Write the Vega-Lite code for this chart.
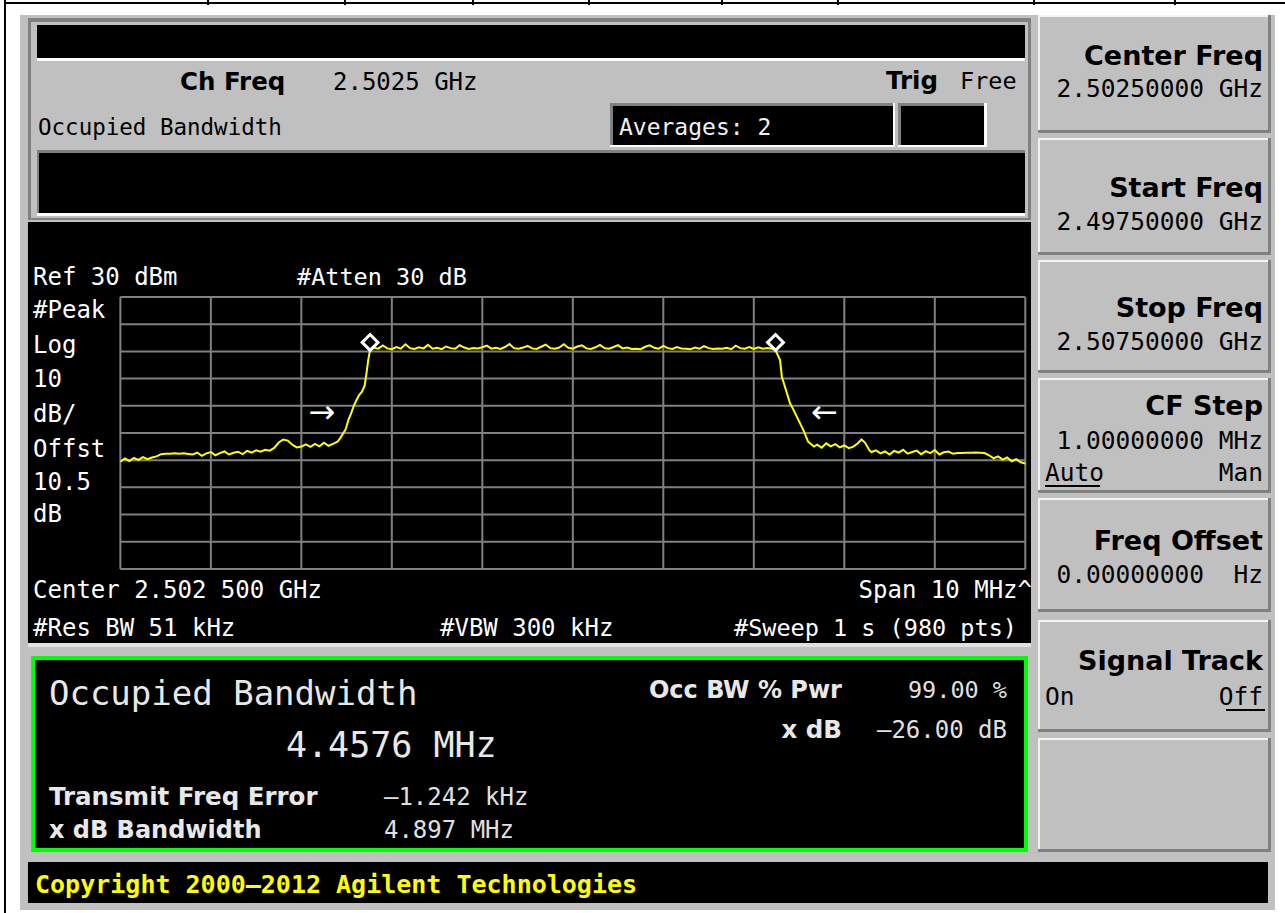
{
"$schema":"https://vega.github.io/schema/vega-lite/v6.json",
"width":1285,"height":913,"padding":0,"autosize":{"type":"none"},
"background":"#ffffff",
"config":{"view":{"stroke":null},"axis":{"disable":true}},
"data":{"values":[{"k":0}]},
"datasets":{
"trace":[
{"f":2497.50,"p":-30.6},{"f":2497.55,"p":-29.4},{"f":2497.60,"p":-30.3},{"f":2497.65,"p":-29.2},{"f":2497.70,"p":-29.9},{"f":2497.75,"p":-28.9},{"f":2497.80,"p":-29.6},{"f":2497.85,"p":-29.0},{"f":2497.90,"p":-28.6},
{"f":2497.95,"p":-27.8},{"f":2498.00,"p":-27.6},{"f":2498.05,"p":-27.6},{"f":2498.10,"p":-27.5},{"f":2498.15,"p":-27.6},{"f":2498.20,"p":-27.5},{"f":2498.25,"p":-27.7},
{"f":2498.30,"p":-27.9},{"f":2498.35,"p":-27.2},{"f":2498.40,"p":-28.4},{"f":2498.45,"p":-27.5},{"f":2498.50,"p":-27.0},{"f":2498.55,"p":-28.2},{"f":2498.60,"p":-27.4},{"f":2498.65,"p":-26.8},{"f":2498.70,"p":-27.9},{"f":2498.75,"p":-27.3},{"f":2498.80,"p":-26.9},{"f":2498.85,"p":-27.8},{"f":2498.90,"p":-26.6},{"f":2498.95,"p":-27.2},{"f":2499.00,"p":-26.4},{"f":2499.05,"p":-26.9},{"f":2499.10,"p":-26.2},
{"f":2499.15,"p":-26.5},{"f":2499.20,"p":-25.5},{"f":2499.25,"p":-23.5},{"f":2499.30,"p":-22.4},{"f":2499.35,"p":-22.8},{"f":2499.40,"p":-24.3},{"f":2499.45,"p":-25.3},{"f":2499.50,"p":-25.0},
{"f":2499.55,"p":-24.2},{"f":2499.60,"p":-25.1},{"f":2499.65,"p":-24.0},{"f":2499.70,"p":-24.9},{"f":2499.75,"p":-23.6},{"f":2499.80,"p":-24.7},{"f":2499.85,"p":-24.0},
{"f":2499.90,"p":-23.2},{"f":2499.93,"p":-21.9},{"f":2499.96,"p":-20.3},{"f":2499.99,"p":-18.6},{"f":2500.02,"p":-15.2},{"f":2500.05,"p":-12.8},{"f":2500.08,"p":-10.0},{"f":2500.11,"p":-7.9},{"f":2500.14,"p":-6.0},{"f":2500.17,"p":-4.8},{"f":2500.20,"p":-2.5},{"f":2500.22,"p":2.0},{"f":2500.24,"p":7.0},{"f":2500.26,"p":10.6},
{"f":2500.30,"p":11.3},{"f":2500.35,"p":11.0},{"f":2500.40,"p":12.2},{"f":2500.45,"p":11.1},{"f":2500.50,"p":10.8},{"f":2500.55,"p":11.6},{"f":2500.60,"p":11.0},{"f":2500.65,"p":12.6},{"f":2500.70,"p":11.2},{"f":2500.75,"p":10.9},
{"f":2500.80,"p":11.5},{"f":2500.85,"p":11.1},{"f":2500.90,"p":12.4},{"f":2500.95,"p":11.0},{"f":2501.00,"p":11.3},{"f":2501.05,"p":10.8},{"f":2501.10,"p":11.8},{"f":2501.15,"p":11.2},{"f":2501.20,"p":11.0},{"f":2501.25,"p":12.3},
{"f":2501.30,"p":11.4},{"f":2501.35,"p":10.9},{"f":2501.40,"p":11.2},{"f":2501.45,"p":11.1},{"f":2501.50,"p":11.5},{"f":2501.55,"p":12.1},{"f":2501.60,"p":11.0},{"f":2501.65,"p":11.3},{"f":2501.70,"p":10.9},{"f":2501.75,"p":11.6},
{"f":2501.80,"p":12.7},{"f":2501.85,"p":11.2},{"f":2501.90,"p":11.0},{"f":2501.95,"p":11.4},{"f":2502.00,"p":12.0},{"f":2502.05,"p":11.1},{"f":2502.10,"p":10.9},{"f":2502.15,"p":11.7},{"f":2502.20,"p":12.5},{"f":2502.25,"p":11.2},
{"f":2502.30,"p":11.0},{"f":2502.35,"p":11.4},{"f":2502.40,"p":12.6},{"f":2502.45,"p":11.3},{"f":2502.50,"p":11.0},{"f":2502.55,"p":11.8},{"f":2502.60,"p":12.2},{"f":2502.65,"p":11.1},{"f":2502.70,"p":10.9},{"f":2502.75,"p":11.5},
{"f":2502.80,"p":12.4},{"f":2502.85,"p":11.2},{"f":2502.90,"p":11.0},{"f":2502.95,"p":11.6},{"f":2503.00,"p":12.3},{"f":2503.05,"p":11.1},{"f":2503.10,"p":11.4},{"f":2503.15,"p":10.9},{"f":2503.20,"p":11.0},{"f":2503.25,"p":10.8},
{"f":2503.30,"p":11.7},{"f":2503.35,"p":12.2},{"f":2503.40,"p":11.3},{"f":2503.45,"p":11.0},{"f":2503.50,"p":12.0},{"f":2503.55,"p":11.2},{"f":2503.60,"p":10.9},{"f":2503.65,"p":11.6},{"f":2503.70,"p":11.1},{"f":2503.75,"p":11.0},
{"f":2503.80,"p":10.8},{"f":2503.85,"p":11.4},{"f":2503.90,"p":11.0},{"f":2503.95,"p":11.9},{"f":2504.00,"p":11.2},{"f":2504.05,"p":10.9},{"f":2504.10,"p":11.1},{"f":2504.15,"p":11.0},{"f":2504.20,"p":11.3},{"f":2504.25,"p":10.8},
{"f":2504.30,"p":12.1},{"f":2504.35,"p":11.2},{"f":2504.40,"p":11.0},{"f":2504.45,"p":11.6},{"f":2504.50,"p":10.9},{"f":2504.55,"p":11.5},{"f":2504.60,"p":11.0},{"f":2504.65,"p":11.2},{"f":2504.70,"p":11.0},
{"f":2504.74,"p":10.5},{"f":2504.79,"p":6.8},{"f":2504.81,"p":0.7},{"f":2504.855,"p":-4.2},{"f":2504.90,"p":-9.1},{"f":2504.94,"p":-11.6},{"f":2505.01,"p":-16.4},{"f":2505.055,"p":-19.5},{"f":2505.10,"p":-23.2},{"f":2505.165,"p":-25.0},
{"f":2505.20,"p":-24.3},{"f":2505.25,"p":-25.4},{"f":2505.30,"p":-23.8},{"f":2505.35,"p":-24.9},{"f":2505.40,"p":-24.1},{"f":2505.45,"p":-25.3},{"f":2505.50,"p":-24.6},{"f":2505.55,"p":-25.6},{"f":2505.60,"p":-25.0},
{"f":2505.65,"p":-23.8},{"f":2505.69,"p":-22.4},{"f":2505.73,"p":-23.6},{"f":2505.78,"p":-26.5},
{"f":2505.80,"p":-27.0},{"f":2505.85,"p":-26.4},{"f":2505.90,"p":-27.5},{"f":2505.95,"p":-26.8},{"f":2506.00,"p":-27.9},{"f":2506.05,"p":-26.6},{"f":2506.10,"p":-27.2},{"f":2506.15,"p":-26.2},{"f":2506.20,"p":-27.6},{"f":2506.25,"p":-27.0},
{"f":2506.30,"p":-26.5},{"f":2506.35,"p":-27.8},{"f":2506.40,"p":-26.7},{"f":2506.45,"p":-27.4},{"f":2506.50,"p":-26.3},{"f":2506.55,"p":-27.9},{"f":2506.60,"p":-27.1},{"f":2506.65,"p":-26.8},{"f":2506.70,"p":-27.6},{"f":2506.75,"p":-27.4},
{"f":2506.80,"p":-27.4},{"f":2506.85,"p":-27.3},{"f":2506.90,"p":-27.3},{"f":2506.95,"p":-27.2},{"f":2507.00,"p":-27.3},{"f":2507.05,"p":-27.4},
{"f":2507.10,"p":-28.2},{"f":2507.15,"p":-29.3},{"f":2507.20,"p":-28.6},{"f":2507.25,"p":-29.8},{"f":2507.30,"p":-29.0},{"f":2507.35,"p":-30.4},{"f":2507.40,"p":-29.6},{"f":2507.45,"p":-30.8},{"f":2507.50,"p":-31.2}
],
"vgrid":[{"f":2497.5},{"f":2498.5},{"f":2499.5},{"f":2500.5},{"f":2501.5},{"f":2502.5},{"f":2503.5},{"f":2504.5},{"f":2505.5},{"f":2506.5},{"f":2507.5}],
"hgrid":[{"p":30},{"p":20},{"p":10},{"p":0},{"p":-10},{"p":-20},{"p":-30},{"p":-40},{"p":-50},{"p":-60},{"p":-70}],
"markers":[{"f":2500.26,"p":13.3},{"f":2504.74,"p":13.3}],
"arrows":[{"f":2499.728,"p":-12.6,"a":"→"},{"f":2505.281,"p":-12.6,"a":"←"}]
},
"layer":[
{"mark":{"type":"rule","color":"#000000","strokeWidth":2},"encoding":{"x":{"datum":2496.225},"y":{"datum":139.2},"y2":{"datum":-196.5}}},
{"mark":{"type":"rule","color":"#000000","strokeWidth":2},"encoding":{"y":{"datum":138.1},"x":{"datum":2496.225},"x2":{"datum":2510.37}}},
{"mark":{"type":"rule","color":"#000000","strokeWidth":2},"encoding":{"x":{"datum":2498.469},"y":{"datum":139.2},"y2":{"datum":137.36}}},
{"mark":{"type":"rule","color":"#000000","strokeWidth":2},"encoding":{"x":{"datum":2499.982},"y":{"datum":139.2},"y2":{"datum":137.36}}},
{"mark":{"type":"rule","color":"#000000","strokeWidth":2},"encoding":{"x":{"datum":2501.397},"y":{"datum":139.2},"y2":{"datum":137.36}}},
{"mark":{"type":"rule","color":"#000000","strokeWidth":2},"encoding":{"x":{"datum":2502.679},"y":{"datum":139.2},"y2":{"datum":137.36}}},
{"mark":{"type":"rule","color":"#000000","strokeWidth":2},"encoding":{"x":{"datum":2504.148},"y":{"datum":139.2},"y2":{"datum":137.36}}},
{"mark":{"type":"rule","color":"#000000","strokeWidth":2},"encoding":{"x":{"datum":2505.43},"y":{"datum":139.2},"y2":{"datum":137.36}}},
{"mark":{"type":"rule","color":"#000000","strokeWidth":2},"encoding":{"x":{"datum":2507.596},"y":{"datum":139.2},"y2":{"datum":137.36}}},
{"mark":{"type":"rule","color":"#000000","strokeWidth":2},"encoding":{"x":{"datum":2509.154},"y":{"datum":139.2},"y2":{"datum":137.36}}},

{"mark":{"type":"rect","color":"#c0c0c0"},"encoding":{"x":{"datum":2496.391},"x2":{"datum":2510.259},"y":{"datum":133.68},"y2":{"datum":-195.4}}},

{"mark":{"type":"rect","color":"#808080"},"encoding":{"x":{"datum":2496.479},"x2":{"datum":2507.563},"y":{"datum":132.58},"y2":{"datum":58.31}}},
{"mark":{"type":"rect","color":"#c0c0c0"},"encoding":{"x":{"datum":2496.513},"x2":{"datum":2507.53},"y":{"datum":131.11},"y2":{"datum":59.04}}},
{"mark":{"type":"rect","color":"#ffffff"},"encoding":{"x":{"datum":2496.579},"x2":{"datum":2507.497},"y":{"datum":130.01},"y2":{"datum":116.77}}},
{"mark":{"type":"rect","color":"#000000"},"encoding":{"x":{"datum":2496.579},"x2":{"datum":2507.497},"y":{"datum":130.01},"y2":{"datum":117.87}}},
{"mark":{"type":"rect","color":"#ffffff"},"encoding":{"x":{"datum":2496.579},"x2":{"datum":2507.497},"y":{"datum":84.05},"y2":{"datum":59.78}}},
{"mark":{"type":"rect","color":"#808080"},"encoding":{"x":{"datum":2496.579},"x2":{"datum":2507.497},"y":{"datum":84.05},"y2":{"datum":60.88}}},
{"mark":{"type":"rect","color":"#000000"},"encoding":{"x":{"datum":2496.601},"x2":{"datum":2507.497},"y":{"datum":82.94},"y2":{"datum":60.88}}},
{"mark":{"type":"rect","color":"#ffffff"},"encoding":{"x":{"datum":2502.911},"x2":{"datum":2506.06},"y":{"datum":101.33},"y2":{"datum":85.15}}},
{"mark":{"type":"rect","color":"#808080"},"encoding":{"x":{"datum":2502.911},"x2":{"datum":2506.038},"y":{"datum":101.33},"y2":{"datum":85.89}}},
{"mark":{"type":"rect","color":"#000000"},"encoding":{"x":{"datum":2502.944},"x2":{"datum":2506.038},"y":{"datum":100.22},"y2":{"datum":85.89}}},
{"mark":{"type":"rect","color":"#ffffff"},"encoding":{"x":{"datum":2506.093},"x2":{"datum":2507.077},"y":{"datum":101.33},"y2":{"datum":85.15}}},
{"mark":{"type":"rect","color":"#808080"},"encoding":{"x":{"datum":2506.093},"x2":{"datum":2507.044},"y":{"datum":101.33},"y2":{"datum":85.89}}},
{"mark":{"type":"rect","color":"#000000"},"encoding":{"x":{"datum":2506.127},"x2":{"datum":2507.044},"y":{"datum":100.22},"y2":{"datum":85.89}}},

{"mark":{"type":"rect","color":"#000000"},"encoding":{"x":{"datum":2496.479},"x2":{"datum":2507.563},"y":{"datum":57.57},"y2":{"datum":-97.22}}},
{"mark":{"type":"rect","color":"#e0e0e0"},"encoding":{"x":{"datum":2496.479},"x2":{"datum":2507.563},"y":{"datum":-97.22},"y2":{"datum":-98.7}}},
{"mark":{"type":"rect","color":"#00ff00"},"encoding":{"x":{"datum":2496.513},"x2":{"datum":2507.53},"y":{"datum":-102.0},"y2":{"datum":-174.07}}},
{"mark":{"type":"rect","color":"#000000"},"encoding":{"x":{"datum":2496.557},"x2":{"datum":2507.486},"y":{"datum":-103.48},"y2":{"datum":-172.6}}},
{"mark":{"type":"rect","color":"#000000"},"encoding":{"x":{"datum":2496.479},"x2":{"datum":2510.182},"y":{"datum":-177.75},"y2":{"datum":-192.82}}},

{"mark":{"type":"rect","color":"#808080"},"encoding":{"x":{"datum":2507.641},"x2":{"datum":2510.215},"y":{"datum":133.68},"y2":{"datum":90.3}}},
{"mark":{"type":"rect","color":"#f4f4f4"},"encoding":{"x":{"datum":2507.641},"x2":{"datum":2510.182},"y":{"datum":133.68},"y2":{"datum":91.4}}},
{"mark":{"type":"rect","color":"#c0c0c0"},"encoding":{"x":{"datum":2507.663},"x2":{"datum":2510.182},"y":{"datum":132.95},"y2":{"datum":91.4}}},
{"mark":{"type":"rect","color":"#808080"},"encoding":{"x":{"datum":2507.641},"x2":{"datum":2510.215},"y":{"datum":88.46},"y2":{"datum":45.44}}},
{"mark":{"type":"rect","color":"#f4f4f4"},"encoding":{"x":{"datum":2507.641},"x2":{"datum":2510.182},"y":{"datum":88.46},"y2":{"datum":46.54}}},
{"mark":{"type":"rect","color":"#c0c0c0"},"encoding":{"x":{"datum":2507.663},"x2":{"datum":2510.182},"y":{"datum":87.72},"y2":{"datum":46.54}}},
{"mark":{"type":"rect","color":"#808080"},"encoding":{"x":{"datum":2507.641},"x2":{"datum":2510.215},"y":{"datum":43.6},"y2":{"datum":2.05}}},
{"mark":{"type":"rect","color":"#f4f4f4"},"encoding":{"x":{"datum":2507.641},"x2":{"datum":2510.182},"y":{"datum":43.6},"y2":{"datum":3.15}}},
{"mark":{"type":"rect","color":"#c0c0c0"},"encoding":{"x":{"datum":2507.663},"x2":{"datum":2510.182},"y":{"datum":42.87},"y2":{"datum":3.15}}},
{"mark":{"type":"rect","color":"#808080"},"encoding":{"x":{"datum":2507.641},"x2":{"datum":2510.215},"y":{"datum":0.21},"y2":{"datum":-42.07}}},
{"mark":{"type":"rect","color":"#f4f4f4"},"encoding":{"x":{"datum":2507.641},"x2":{"datum":2510.182},"y":{"datum":0.21},"y2":{"datum":-40.97}}},
{"mark":{"type":"rect","color":"#c0c0c0"},"encoding":{"x":{"datum":2507.663},"x2":{"datum":2510.182},"y":{"datum":-0.52},"y2":{"datum":-40.97}}},
{"mark":{"type":"rect","color":"#808080"},"encoding":{"x":{"datum":2507.641},"x2":{"datum":2510.215},"y":{"datum":-43.91},"y2":{"datum":-85.83}}},
{"mark":{"type":"rect","color":"#f4f4f4"},"encoding":{"x":{"datum":2507.641},"x2":{"datum":2510.182},"y":{"datum":-43.91},"y2":{"datum":-84.72}}},
{"mark":{"type":"rect","color":"#c0c0c0"},"encoding":{"x":{"datum":2507.663},"x2":{"datum":2510.182},"y":{"datum":-44.65},"y2":{"datum":-84.72}}},
{"mark":{"type":"rect","color":"#808080"},"encoding":{"x":{"datum":2507.641},"x2":{"datum":2510.215},"y":{"datum":-88.77},"y2":{"datum":-129.95}}},
{"mark":{"type":"rect","color":"#f4f4f4"},"encoding":{"x":{"datum":2507.641},"x2":{"datum":2510.182},"y":{"datum":-88.77},"y2":{"datum":-128.85}}},
{"mark":{"type":"rect","color":"#c0c0c0"},"encoding":{"x":{"datum":2507.663},"x2":{"datum":2510.182},"y":{"datum":-89.5},"y2":{"datum":-128.85}}},
{"mark":{"type":"rect","color":"#808080"},"encoding":{"x":{"datum":2507.641},"x2":{"datum":2510.215},"y":{"datum":-132.16},"y2":{"datum":-174.07}}},
{"mark":{"type":"rect","color":"#f4f4f4"},"encoding":{"x":{"datum":2507.641},"x2":{"datum":2510.182},"y":{"datum":-132.16},"y2":{"datum":-172.97}}},
{"mark":{"type":"rect","color":"#c0c0c0"},"encoding":{"x":{"datum":2507.663},"x2":{"datum":2510.182},"y":{"datum":-132.89},"y2":{"datum":-172.97}}},

{"data":{"name":"vgrid"},"mark":{"type":"rule","color":"#808080","strokeWidth":2},"encoding":{"x":{"field":"f","type":"quantitative"},"y":{"datum":30},"y2":{"datum":-70}}},
{"data":{"name":"hgrid"},"mark":{"type":"rule","color":"#808080","strokeWidth":2},"encoding":{"y":{"field":"p","type":"quantitative"},"x":{"datum":2497.5},"x2":{"datum":2507.5}}},
{"data":{"name":"trace"},"mark":{"type":"line","color":"#ffff00","strokeWidth":2},"encoding":{"x":{"field":"f","type":"quantitative","scale":{"domain":[2496.17,2510.37],"nice":false,"zero":false},"axis":null},"y":{"field":"p","type":"quantitative","scale":{"domain":[-196.5,139.2],"nice":false,"zero":false},"axis":null}}},
{"data":{"name":"markers"},"mark":{"type":"point","shape":"diamond","filled":false,"color":"#ffffff","strokeWidth":3,"size":250,"opacity":1},"encoding":{"x":{"field":"f","type":"quantitative"},"y":{"field":"p","type":"quantitative"}}},
{"data":{"name":"arrows"},"mark":{"type":"text","font":"DejaVu Sans","fontSize":32,"color":"#ffffff","align":"center","baseline":"middle"},"encoding":{"x":{"field":"f","type":"quantitative"},"y":{"field":"p","type":"quantitative"},"text":{"field":"a"}}},

{"mark":{"type":"text","font":"DejaVu Sans","fontWeight":"bold","fontSize":24.5,"color":"#000000","align":"left","baseline":"alphabetic"},"encoding":{"x":{"datum":2498.159},"y":{"datum":106.11},"text":{"value":"Ch Freq"}}},
{"mark":{"type":"text","font":"DejaVu Sans Mono","fontSize":24,"color":"#000000","align":"left","baseline":"alphabetic"},"encoding":{"x":{"datum":2499.85},"y":{"datum":106.11},"text":{"value":"2.5025 GHz"}}},
{"mark":{"type":"text","font":"DejaVu Sans","fontWeight":"bold","fontSize":24.5,"color":"#000000","align":"left","baseline":"alphabetic"},"encoding":{"x":{"datum":2505.961},"y":{"datum":106.48},"text":{"value":"Trig"}}},
{"mark":{"type":"text","font":"DejaVu Sans Mono","fontSize":23.5,"color":"#000000","align":"left","baseline":"alphabetic"},"encoding":{"x":{"datum":2506.779},"y":{"datum":106.48},"text":{"value":"Free"}}},
{"mark":{"type":"text","font":"DejaVu Sans Mono","fontSize":22.5,"color":"#000000","align":"left","baseline":"alphabetic"},"encoding":{"x":{"datum":2496.59},"y":{"datum":89.56},"text":{"value":"Occupied Bandwidth"}}},
{"mark":{"type":"text","font":"DejaVu Sans Mono","fontSize":23,"color":"#f0f0f0","align":"left","baseline":"alphabetic"},"encoding":{"x":{"datum":2503.01},"y":{"datum":89.56},"text":{"value":"Averages: 2"}}},

{"mark":{"type":"text","font":"DejaVu Sans Mono","fontSize":24,"color":"#ffffff","align":"left","baseline":"alphabetic"},"encoding":{"x":{"datum":2496.535},"y":{"datum":34.41},"text":{"value":"Ref 30 dBm"}}},
{"mark":{"type":"text","font":"DejaVu Sans Mono","fontSize":23.5,"color":"#ffffff","align":"left","baseline":"alphabetic"},"encoding":{"x":{"datum":2499.452},"y":{"datum":34.41},"text":{"value":"#Atten 30 dB"}}},
{"mark":{"type":"text","font":"DejaVu Sans Mono","fontSize":24,"color":"#ffffff","align":"left","baseline":"alphabetic"},"encoding":{"x":{"datum":2496.535},"y":{"datum":22.27},"text":{"value":"#Peak"}}},
{"mark":{"type":"text","font":"DejaVu Sans Mono","fontSize":24,"color":"#ffffff","align":"left","baseline":"alphabetic"},"encoding":{"x":{"datum":2496.535},"y":{"datum":9.41},"text":{"value":"Log"}}},
{"mark":{"type":"text","font":"DejaVu Sans Mono","fontSize":24,"color":"#ffffff","align":"left","baseline":"alphabetic"},"encoding":{"x":{"datum":2496.535},"y":{"datum":-3.1},"text":{"value":"10"}}},
{"mark":{"type":"text","font":"DejaVu Sans Mono","fontSize":24,"color":"#ffffff","align":"left","baseline":"alphabetic"},"encoding":{"x":{"datum":2496.535},"y":{"datum":-15.97},"text":{"value":"dB/"}}},
{"mark":{"type":"text","font":"DejaVu Sans Mono","fontSize":24,"color":"#ffffff","align":"left","baseline":"alphabetic"},"encoding":{"x":{"datum":2496.535},"y":{"datum":-28.84},"text":{"value":"Offst"}}},
{"mark":{"type":"text","font":"DejaVu Sans Mono","fontSize":24,"color":"#ffffff","align":"left","baseline":"alphabetic"},"encoding":{"x":{"datum":2496.535},"y":{"datum":-40.97},"text":{"value":"10.5"}}},
{"mark":{"type":"text","font":"DejaVu Sans Mono","fontSize":24,"color":"#ffffff","align":"left","baseline":"alphabetic"},"encoding":{"x":{"datum":2496.535},"y":{"datum":-52.73},"text":{"value":"dB"}}},
{"mark":{"type":"text","font":"DejaVu Sans Mono","fontSize":24,"color":"#ffffff","align":"left","baseline":"alphabetic"},"encoding":{"x":{"datum":2496.535},"y":{"datum":-80.68},"text":{"value":"Center 2.502 500 GHz"}}},
{"mark":{"type":"text","font":"DejaVu Sans Mono","fontSize":24,"color":"#ffffff","align":"right","baseline":"alphabetic"},"encoding":{"x":{"datum":2507.574},"y":{"datum":-80.68},"text":{"value":"Span 10 MHz^"}}},
{"mark":{"type":"text","font":"DejaVu Sans Mono","fontSize":24,"color":"#ffffff","align":"left","baseline":"alphabetic"},"encoding":{"x":{"datum":2496.535},"y":{"datum":-94.65},"text":{"value":"#Res BW 51 kHz"}}},
{"mark":{"type":"text","font":"DejaVu Sans Mono","fontSize":24,"color":"#ffffff","align":"left","baseline":"alphabetic"},"encoding":{"x":{"datum":2501.032},"y":{"datum":-94.65},"text":{"value":"#VBW 300 kHz"}}},
{"mark":{"type":"text","font":"DejaVu Sans Mono","fontSize":23.5,"color":"#ffffff","align":"right","baseline":"alphabetic"},"encoding":{"x":{"datum":2507.408},"y":{"datum":-94.65},"text":{"value":"#Sweep 1 s (980 pts)"}}},

{"mark":{"type":"text","font":"DejaVu Sans Mono","fontSize":34,"color":"#e8e8e8","align":"left","baseline":"alphabetic"},"encoding":{"x":{"datum":2496.711},"y":{"datum":-120.02},"text":{"value":"Occupied Bandwidth"}}},
{"mark":{"type":"text","font":"DejaVu Sans Mono","fontSize":35,"color":"#e8e8e8","align":"left","baseline":"alphabetic"},"encoding":{"x":{"datum":2499.33},"y":{"datum":-139.15},"text":{"value":"4.4576 MHz"}}},
{"mark":{"type":"text","font":"DejaVu Sans","fontWeight":"bold","fontSize":24,"color":"#e8e8e8","align":"right","baseline":"alphabetic"},"encoding":{"x":{"datum":2505.474},"y":{"datum":-117.45},"text":{"value":"Occ BW % Pwr"}}},
{"mark":{"type":"text","font":"DejaVu Sans Mono","fontSize":23.5,"color":"#e0e0e0","align":"right","baseline":"alphabetic"},"encoding":{"x":{"datum":2507.298},"y":{"datum":-117.45},"text":{"value":"99.00 %"}}},
{"mark":{"type":"text","font":"DejaVu Sans","fontWeight":"bold","fontSize":24.5,"color":"#e8e8e8","align":"right","baseline":"alphabetic"},"encoding":{"x":{"datum":2505.474},"y":{"datum":-132.16},"text":{"value":"x dB"}}},
{"mark":{"type":"text","font":"DejaVu Sans Mono","fontSize":24,"color":"#e0e0e0","align":"right","baseline":"alphabetic"},"encoding":{"x":{"datum":2507.298},"y":{"datum":-132.16},"text":{"value":"–26.00 dB"}}},
{"mark":{"type":"text","font":"DejaVu Sans","fontWeight":"bold","fontSize":24.5,"color":"#e8e8e8","align":"left","baseline":"alphabetic"},"encoding":{"x":{"datum":2496.711},"y":{"datum":-156.79},"text":{"value":"Transmit Freq Error"}}},
{"mark":{"type":"text","font":"DejaVu Sans Mono","fontSize":24,"color":"#e0e0e0","align":"left","baseline":"alphabetic"},"encoding":{"x":{"datum":2500.413},"y":{"datum":-156.79},"text":{"value":"–1.242 kHz"}}},
{"mark":{"type":"text","font":"DejaVu Sans","fontWeight":"bold","fontSize":24,"color":"#e8e8e8","align":"left","baseline":"alphabetic"},"encoding":{"x":{"datum":2496.711},"y":{"datum":-168.93},"text":{"value":"x dB Bandwidth"}}},
{"mark":{"type":"text","font":"DejaVu Sans Mono","fontSize":24,"color":"#e0e0e0","align":"left","baseline":"alphabetic"},"encoding":{"x":{"datum":2500.413},"y":{"datum":-168.93},"text":{"value":"4.897 MHz"}}},
{"mark":{"type":"text","font":"DejaVu Sans Mono","fontWeight":"bold","fontSize":25,"color":"#ffff00","align":"left","baseline":"alphabetic"},"encoding":{"x":{"datum":2496.557},"y":{"datum":-189.15},"text":{"value":"Copyright 2000–2012 Agilent Technologies"}}},

{"mark":{"type":"text","font":"DejaVu Sans","fontWeight":"bold","fontSize":27,"color":"#000000","align":"right","baseline":"alphabetic"},"encoding":{"x":{"datum":2510.127},"y":{"datum":115.3},"text":{"value":"Center Freq"}}},
{"mark":{"type":"text","font":"DejaVu Sans Mono","fontSize":24.5,"color":"#000000","align":"right","baseline":"alphabetic"},"encoding":{"x":{"datum":2510.127},"y":{"datum":103.53},"text":{"value":"2.50250000 GHz"}}},
{"mark":{"type":"text","font":"DejaVu Sans","fontWeight":"bold","fontSize":27,"color":"#000000","align":"right","baseline":"alphabetic"},"encoding":{"x":{"datum":2510.127},"y":{"datum":66.77},"text":{"value":"Start Freq"}}},
{"mark":{"type":"text","font":"DejaVu Sans Mono","fontSize":24.5,"color":"#000000","align":"right","baseline":"alphabetic"},"encoding":{"x":{"datum":2510.127},"y":{"datum":54.63},"text":{"value":"2.49750000 GHz"}}},
{"mark":{"type":"text","font":"DejaVu Sans","fontWeight":"bold","fontSize":27,"color":"#000000","align":"right","baseline":"alphabetic"},"encoding":{"x":{"datum":2510.127},"y":{"datum":22.64},"text":{"value":"Stop Freq"}}},
{"mark":{"type":"text","font":"DejaVu Sans Mono","fontSize":24.5,"color":"#000000","align":"right","baseline":"alphabetic"},"encoding":{"x":{"datum":2510.127},"y":{"datum":10.51},"text":{"value":"2.50750000 GHz"}}},
{"mark":{"type":"text","font":"DejaVu Sans","fontWeight":"bold","fontSize":27,"color":"#000000","align":"right","baseline":"alphabetic"},"encoding":{"x":{"datum":2510.127},"y":{"datum":-13.39},"text":{"value":"CF Step"}}},
{"mark":{"type":"text","font":"DejaVu Sans Mono","fontSize":24.5,"color":"#000000","align":"right","baseline":"alphabetic"},"encoding":{"x":{"datum":2510.127},"y":{"datum":-25.89},"text":{"value":"1.00000000 MHz"}}},
{"mark":{"type":"text","font":"DejaVu Sans Mono","fontSize":24.5,"color":"#000000","align":"left","baseline":"alphabetic"},"encoding":{"x":{"datum":2507.718},"y":{"datum":-37.66},"text":{"value":"Auto"}}},
{"mark":{"type":"text","font":"DejaVu Sans Mono","fontSize":24.5,"color":"#000000","align":"right","baseline":"alphabetic"},"encoding":{"x":{"datum":2510.127},"y":{"datum":-37.66},"text":{"value":"Man"}}},
{"mark":{"type":"rect","color":"#000000"},"encoding":{"x":{"datum":2507.718},"x2":{"datum":2508.326},"y":{"datum":-39.13},"y2":{"datum":-39.87}}},
{"mark":{"type":"text","font":"DejaVu Sans","fontWeight":"bold","fontSize":27,"color":"#000000","align":"right","baseline":"alphabetic"},"encoding":{"x":{"datum":2510.127},"y":{"datum":-63.03},"text":{"value":"Freq Offset"}}},
{"mark":{"type":"text","font":"DejaVu Sans Mono","fontSize":24.5,"color":"#000000","align":"right","baseline":"alphabetic"},"encoding":{"x":{"datum":2510.127},"y":{"datum":-75.16},"text":{"value":"0.00000000\u00a0 Hz"}}},
{"mark":{"type":"text","font":"DejaVu Sans","fontWeight":"bold","fontSize":27,"color":"#000000","align":"right","baseline":"alphabetic"},"encoding":{"x":{"datum":2510.127},"y":{"datum":-107.15},"text":{"value":"Signal Track"}}},
{"mark":{"type":"text","font":"DejaVu Sans Mono","fontSize":24.5,"color":"#000000","align":"left","baseline":"alphabetic"},"encoding":{"x":{"datum":2507.718},"y":{"datum":-120.02},"text":{"value":"On"}}},
{"mark":{"type":"text","font":"DejaVu Sans Mono","fontSize":24.5,"color":"#000000","align":"right","baseline":"alphabetic"},"encoding":{"x":{"datum":2510.127},"y":{"datum":-120.02},"text":{"value":"Off"}}},
{"mark":{"type":"rect","color":"#000000"},"encoding":{"x":{"datum":2509.718},"x2":{"datum":2510.149},"y":{"datum":-121.49},"y2":{"datum":-122.23}}}
]
}
